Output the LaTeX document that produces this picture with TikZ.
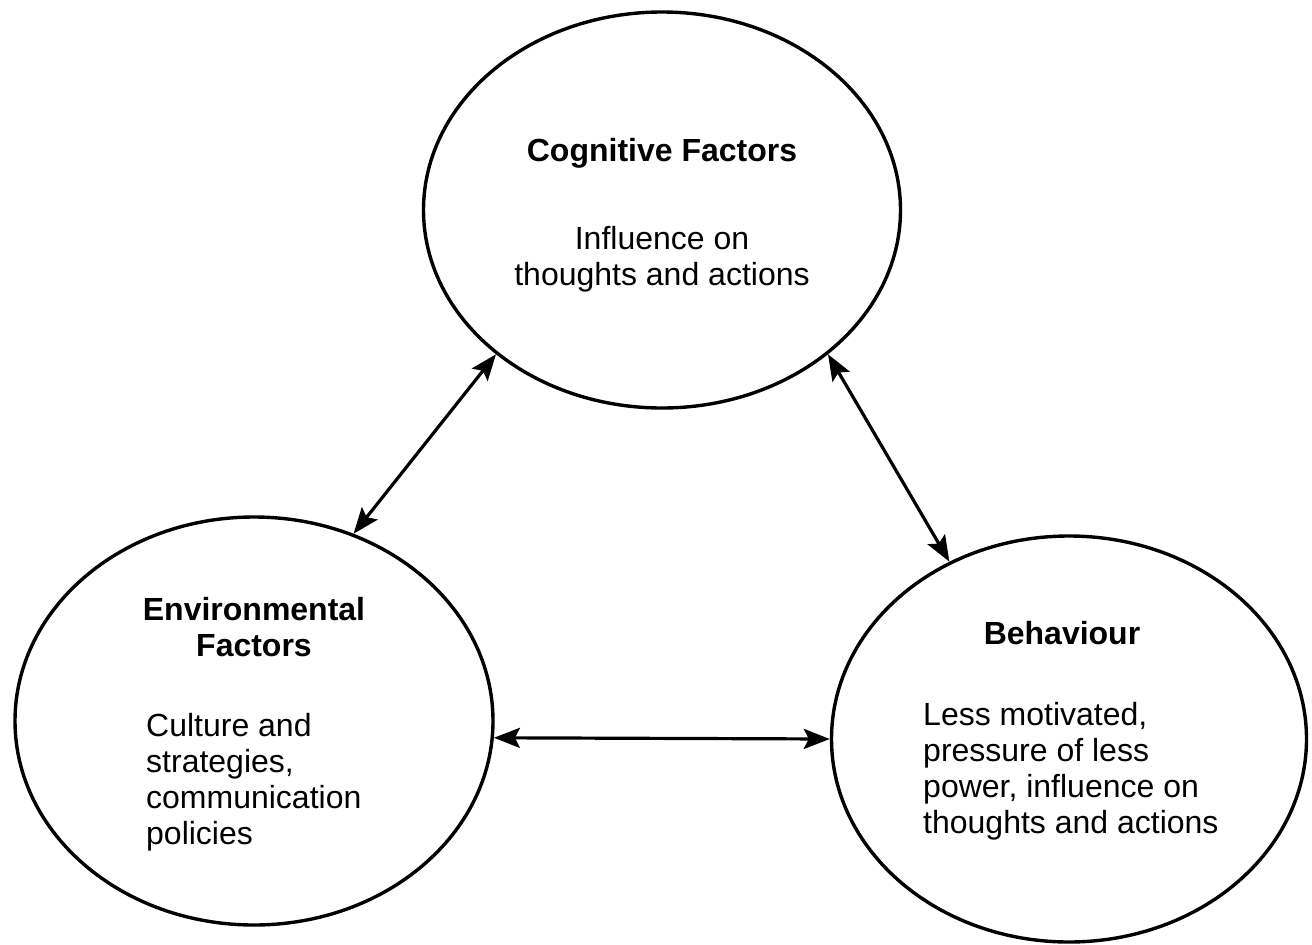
\documentclass[tikz,border=0pt]{standalone}
\usepackage{fontspec}
\setmainfont{Liberation Sans}
\usetikzlibrary{arrows.meta,shapes.geometric}

\begin{document}
\begin{tikzpicture}[
    x=1pt, y=-1pt,
    font=\fontsize{32}{36}\selectfont,
    factor/.style={draw, ellipse, line width=3.4pt, inner sep=0pt},
    title/.style={font=\fontsize{32}{36}\selectfont\bfseries, align=center, inner sep=0pt},
    body/.style={inner sep=0pt},
    arr/.style={{Stealth[length=26pt,width=20pt,inset=5pt]}-{Stealth[length=26pt,width=20pt,inset=5pt]}, line width=3.2pt}
  ]
  \useasboundingbox (0,0) rectangle (1312,945);

  % ===== the three factors =====
  \node[factor, minimum width=477pt, minimum height=396pt] (cog) at (662,210) {};
  \node[factor, minimum width=478pt, minimum height=408pt] (env) at (254,721) {};
  \node[factor, minimum width=475pt, minimum height=406pt] (beh) at (1069,739) {};

  % ===== texts =====
  \node[title] (cogtitle) at (662,153) {Cognitive Factors};
  \node[body, align=center] (cogtext) at (662,259) {Influence on\\thoughts and actions};

  \node[title] (envtitle) at (254,627) {Environmental\\Factors};
  \node[body, align=left, anchor=west] (envtext) at (146,782)
    {Culture and\\strategies,\\communication\\policies};

  \node[title] (behtitle) at (1062,633) {Behaviour};
  \node[body, align=left, anchor=west] (behtext) at (923,771)
    {Less motivated,\\pressure of less\\power, influence on\\thoughts and actions};

  % ===== reciprocal links =====
  \draw[arr] (cog.221) -- (env.62.6);
  \draw[arr] (cog.319) -- (beh.124.3);
  \draw[arr] (env.-4.5) -- (beh.180);
\end{tikzpicture}
\end{document}
